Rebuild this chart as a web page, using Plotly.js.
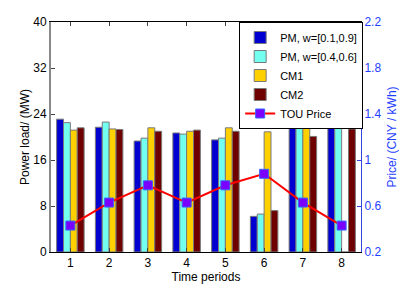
<!DOCTYPE html>
<html>
<head>
<meta charset="utf-8">
<script src="https://cdn.plot.ly/plotly-3.0.1.min.js"></script>
<style>html,body{margin:0;padding:0;background:#fff;}#chart{width:399px;height:284px;}</style>
</head>
<body>
<div id="chart"></div>
<script>
var periods = [1, 2, 3, 4, 5, 6, 7, 8];
var pmA = [23.1, 21.7, 19.3, 20.7, 19.5, 6.2, 21.9, 22.5];
var pmB = [22.5, 22.6, 19.8, 20.5, 19.8, 6.6, 22.2, 22.5];
var cm1 = [21.2, 21.4, 21.6, 21.0, 21.6, 20.9, 21.6, 0];
var cm2 = [21.6, 21.3, 21.0, 21.2, 21.0, 7.2, 20.1, 21.4];
var price = [0.43, 0.63, 0.78, 0.63, 0.78, 0.88, 0.63, 0.43];
var seriesNames = ['PM, w=[0.1,0.9]', 'PM, w=[0.4,0.6]', 'CM1', 'CM2', 'TOU Price'];
var leftTicks = [0, 8, 16, 24, 32, 40];
var rightTicks = [0.2, 0.6, 1.0, 1.4, 1.8, 2.2];
var rightTickText = ['0.2', '0.6', '1', '1.4', '1.8', '2.2'];

var barLine = {color: '#7a7a7a', width: 1};
var font = {family: 'Liberation Sans, Arial, sans-serif', size: 12, color: '#000'};
var blueFont = {family: 'Liberation Sans, Arial, sans-serif', size: 12, color: '#1f3fff'};

var traces = [
  {type: 'bar', x: periods, y: pmA, name: seriesNames[0], marker: {color: '#0000d0', line: barLine}},
  {type: 'bar', x: periods, y: pmB, name: seriesNames[1], marker: {color: '#72fff0', line: barLine}},
  {type: 'bar', x: periods, y: cm1, name: seriesNames[2], marker: {color: '#ffd000', line: barLine}},
  {type: 'bar', x: periods, y: cm2, name: seriesNames[3], marker: {color: '#6e0000', line: barLine}},
  {type: 'scatter', mode: 'lines+markers', x: periods, y: price, name: seriesNames[4], yaxis: 'y2',
   line: {color: '#ff0000', width: 2},
   marker: {symbol: 'square', size: 9, color: '#7a00ff', line: {color: '#3366ff', width: 1}}}
];

var layout = {
  width: 399, height: 284,
  margin: {l: 51, r: 38, t: 22, b: 32, pad: 0},
  paper_bgcolor: '#fff', plot_bgcolor: '#fff',
  font: font,
  barmode: 'group', bargap: 0.29, bargroupgap: 0,
  showlegend: true,
  legend: {x: 0.607, y: 1.0, xanchor: 'left', yanchor: 'top',
    bgcolor: '#fff', bordercolor: '#000', borderwidth: 1,
    font: {family: 'Liberation Sans, Arial, sans-serif', size: 11, color: '#000'},
    tracegroupgap: 0, itemwidth: 30},
  xaxis: {range: [0.5, 8.5], tickvals: periods, ticks: 'inside', ticklen: 4,
    showline: true, linecolor: '#000', linewidth: 1, mirror: 'ticks',
    showgrid: false, zeroline: false, tickfont: font,
    title: {text: 'Time periods', font: font, standoff: 4}},
  yaxis: {range: [0, 40], tickvals: leftTicks, ticks: 'inside', ticklen: 4,
    showline: true, linecolor: '#888', linewidth: 2,
    showgrid: false, zeroline: false, tickfont: font,
    title: {text: 'Power load/ (MW)', font: font, standoff: 1}},
  yaxis2: {range: [0.2, 2.2], tickvals: rightTicks, ticktext: rightTickText,
    overlaying: 'y', side: 'right', ticks: 'inside', ticklen: 4,
    tickcolor: '#3344dd', showline: true, linecolor: '#3344dd', linewidth: 1,
    showgrid: false, zeroline: false, tickfont: blueFont,
    title: {text: 'Price/ (CNY / kWh)', font: blueFont, standoff: 7}}
};

Plotly.newPlot('chart', traces, layout, {displayModeBar: false, staticPlot: true});
</script>
</body>
</html>
